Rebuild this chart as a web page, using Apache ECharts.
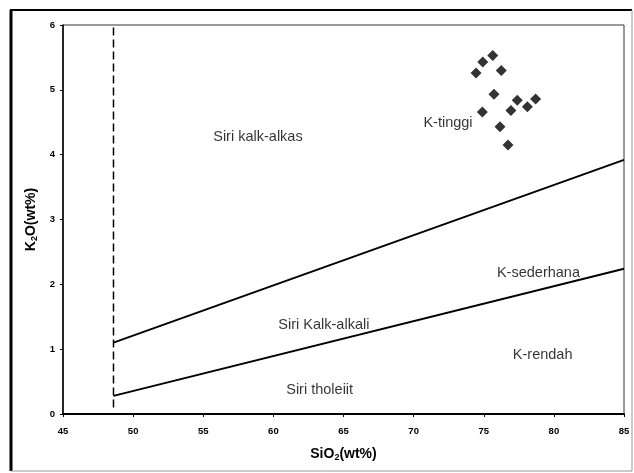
<!DOCTYPE html>
<html>
<head>
<meta charset="utf-8">
<script src="https://cdn.jsdelivr.net/npm/echarts@6/dist/echarts.min.js"></script>
<style>
  html, body { margin: 0; padding: 0; background: #fff; }
  #chart { width: 634px; height: 473px; }
</style>
</head>
<body>
<div id="chart"></div>
<script>
// SiO2 vs K2O classification diagram

// Sample analyses (wt%)
const sampleSiO2 = [74.45, 74.93, 75.64, 76.25, 75.73, 77.39, 76.94, 78.11, 78.70, 74.90, 76.16, 76.73];
const sampleK2O  = [5.26, 5.43, 5.53, 5.30, 4.93, 4.84, 4.68, 4.74, 4.86, 4.66, 4.43, 4.15];

// Boundary lines between series (SiO2, K2O)
const highKBoundary = [[48.6, 1.10], [85, 3.92]];
const lowKBoundary  = [[48.6, 0.28], [85, 2.24]];
const basaltCutoff  = [[48.6, 0.10], [48.6, 6.0]];

// Field names and their anchor points (SiO2, K2O)
const fieldNames = ['Siri kalk-alkas', 'K-tinggi', 'K-sederhana', 'Siri Kalk-alkali', 'K-rendah', 'Siri tholeiit'];
const fieldSiO2  = [58.9, 72.45, 78.9, 63.6, 79.2, 63.3];
const fieldK2O   = [4.27, 4.49, 2.17, 1.37, 0.91, 0.37];

// Axis ranges
const xMin = 45, xMax = 85, xStep = 5;
const yMin = 0, yMax = 6, yStep = 1;

const chart = echarts.init(document.getElementById('chart'), null, { renderer: 'canvas' });

const labelFont = 'Liberation Sans, Arial, sans-serif';

const nameRich = {
  b: { fontFamily: labelFont, fontWeight: 'bold', fontSize: 14, color: '#000' },
  s: { fontFamily: labelFont, fontWeight: 'bold', fontSize: 9, color: '#000', verticalAlign: 'bottom', padding: [7, 0, 0, 0] }
};

const option = {
  backgroundColor: '#fff',
  animation: false,
  grid: {
    left: 63, right: 10, top: 25, bottom: 59,
    show: true, borderColor: '#333', borderWidth: 1
  },
  xAxis: {
    type: 'value', min: xMin, max: xMax, interval: xStep,
    name: '{b|SiO}{s|2}{b|(wt%)}',
    nameLocation: 'middle', nameGap: 32,
    nameTextStyle: { rich: nameRich },
    axisLine: { onZero: false, lineStyle: { color: '#000', width: 2 } },
    axisTick: { show: true, length: 3, lineStyle: { color: '#000' } },
    axisLabel: { fontFamily: labelFont, fontWeight: 'bold', fontSize: 9.5, color: '#000', margin: 12 },
    splitLine: { show: false }
  },
  yAxis: {
    type: 'value', min: yMin, max: yMax, interval: yStep,
    name: '{b|K}{s|2}{b|O(wt%)}',
    nameLocation: 'middle', nameGap: 24, nameRotate: 90,
    nameTextStyle: { rich: nameRich },
    axisLine: { onZero: false, lineStyle: { color: '#000', width: 1.5 } },
    axisTick: { show: true, length: 3, lineStyle: { color: '#000' } },
    axisLabel: { fontFamily: labelFont, fontWeight: 'bold', fontSize: 9.5, color: '#000', margin: 8 },
    splitLine: { show: false }
  },
  graphic: [
    // outer frame
    { type: 'line', shape: { x1: 11, y1: 10, x2: 11, y2: 471 }, style: { stroke: '#000', lineWidth: 3 } },
    { type: 'line', shape: { x1: 10, y1: 10, x2: 632, y2: 10 }, style: { stroke: '#000', lineWidth: 2 } },
    { type: 'line', shape: { x1: 11, y1: 471, x2: 632, y2: 471 }, style: { stroke: '#999', lineWidth: 1 } },
    { type: 'line', shape: { x1: 632, y1: 10, x2: 632, y2: 471 }, style: { stroke: '#999', lineWidth: 1 } }
  ],
  series: [
    {
      type: 'line', data: highKBoundary, symbol: 'none',
      lineStyle: { color: '#000', width: 2 }, z: 3
    },
    {
      type: 'line', data: lowKBoundary, symbol: 'none',
      lineStyle: { color: '#000', width: 2 }, z: 3
    },
    {
      type: 'line', data: basaltCutoff, symbol: 'none',
      lineStyle: { color: '#000', width: 1.5, type: [8, 4] }, z: 3
    },
    {
      type: 'scatter', symbol: 'diamond', symbolSize: 11,
      itemStyle: { color: '#000' },
      data: sampleSiO2.map((x, i) => [x, sampleK2O[i]]), z: 4
    },
    {
      type: 'scatter', symbolSize: 0, silent: true,
      data: fieldNames.map((n, i) => ({ value: [fieldSiO2[i], fieldK2O[i]], name: n })),
      label: {
        show: true, position: 'inside', formatter: p => p.name,
        fontFamily: labelFont, fontSize: 14.5, color: '#000'
      }, z: 5
    }
  ]
};

chart.setOption(option);
</script>
</body>
</html>
